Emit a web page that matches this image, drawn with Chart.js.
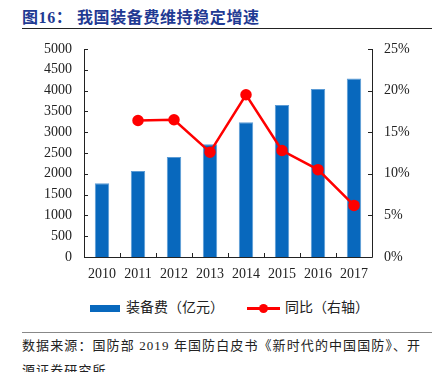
<!DOCTYPE html>
<html><head><meta charset="utf-8">
<script src="https://cdn.jsdelivr.net/npm/chart.js@4/dist/chart.umd.min.js"></script>
<style>
html,body{margin:0;padding:0;background:#fff;}
body{width:440px;height:372px;position:relative;overflow:hidden;font-family:"Noto Sans CJK SC","Liberation Serif",serif;}
#title{position:absolute;left:22px;top:4px;font-size:16px;font-weight:bold;color:#1f3a93;font-family:"Liberation Serif","Noto Sans CJK SC",serif;letter-spacing:0.6px;white-space:nowrap;}
#tline{position:absolute;left:22px;top:28px;width:410px;height:1px;background:#222;}
#wrap{position:absolute;left:0;top:0;width:440px;height:290px;}
#legend{position:absolute;top:296px;left:0;width:440px;height:20px;font-size:14px;color:#222;}
.lg{position:absolute;top:0;white-space:nowrap;line-height:20px;}
#bline{position:absolute;left:22px;top:332px;width:410px;height:1px;background:#888;}
#src{position:absolute;left:22px;top:333px;font-size:13px;color:#222;line-height:25px;letter-spacing:1.1px;white-space:nowrap;font-family:"Liberation Serif","Noto Sans CJK SC",serif;}
</style></head><body>
<div id="title">图16：&nbsp;我国装备费维持稳定增速</div>
<div id="tline"></div>
<div id="wrap"><canvas id="c" width="440" height="290"></canvas></div>
<div id="legend">
  <div class="lg" style="left:90px;"><span style="display:inline-block;width:30px;height:7px;background:#0868bd;vertical-align:middle;margin-right:6px;"></span>装备费（亿元）</div>
  <div class="lg" style="left:247px;"><span style="display:inline-block;position:relative;width:33px;height:10px;vertical-align:middle;margin-right:5px;"><span style="position:absolute;left:0;top:4px;width:33px;height:2.5px;background:#ff0000;"></span><span style="position:absolute;left:12px;top:1px;width:9px;height:9px;border-radius:50%;background:#ff0000;"></span></span>同比（右轴）</div>
</div>
<div id="bline"></div>
<div id="src">数据来源：国防部 2019 年国防白皮书《新时代的中国国防》、开<br>源证券研究所</div>
<script>
const categories = ['2010','2011','2012','2013','2014','2015','2016','2017'];
const equipmentSpending = [1774, 2065, 2406, 2710, 3238, 3654, 4038, 4288];
const yoyGrowth = [null, 16.4, 16.5, 12.6, 19.5, 12.8, 10.5, 6.2];
const leftTicks = [0,500,1000,1500,2000,2500,3000,3500,4000,4500,5000];
const rightTicks = [0,5,10,15,20,25];

const tickFont = {family:'"Liberation Serif", serif', size:14};
const axesPlugin = {
  id:'axesPlugin',
  afterDatasetsDraw(chart){
    const {ctx, chartArea:a, scales} = chart;
    ctx.save();
    ctx.strokeStyle = '#222'; ctx.lineWidth = 1;
    ctx.beginPath();
    ctx.moveTo(a.left+0.5, a.top); ctx.lineTo(a.left+0.5, a.bottom+0.5);
    ctx.lineTo(a.right+0.5, a.bottom+0.5); ctx.lineTo(a.right+0.5, a.top);
    ctx.stroke();
    ctx.beginPath();
    scales.y.ticks.forEach(t=>{const p=Math.round(scales.y.getPixelForValue(t.value))+0.5; ctx.moveTo(a.left, p); ctx.lineTo(a.left+4, p);});
    scales.y1.ticks.forEach(t=>{const p=Math.round(scales.y1.getPixelForValue(t.value))+0.5; ctx.moveTo(a.right, p); ctx.lineTo(a.right-4, p);});
    const n = categories.length;
    for(let i=1;i<n;i++){
      const p = Math.round((scales.x.getPixelForValue(i-1)+scales.x.getPixelForValue(i))/2)+0.5;
      ctx.moveTo(p, a.bottom); ctx.lineTo(p, a.bottom-4);
    }
    ctx.stroke();
    ctx.restore();
  }
};

new Chart(document.getElementById('c'), {
  data:{
    labels: categories,
    datasets:[
      {type:'line', label:'同比（右轴）', data:yoyGrowth, yAxisID:'y1', borderColor:'#ff0000', backgroundColor:'#ff0000', borderWidth:2.5, pointRadius:4.5, pointHoverRadius:4.5, tension:0, spanGaps:false, order:0},
      {type:'bar', label:'装备费（亿元）', data:equipmentSpending, yAxisID:'y', backgroundColor:'#0868bd', borderColor:'#5b9bd5', borderWidth:{left:1,right:1,top:1,bottom:0}, barPercentage:0.4, categoryPercentage:1.0, order:1}
    ]
  },
  options:{
    responsive:false, animation:false, devicePixelRatio:1,
    layout:{padding:{left:0,right:0,top:49,bottom:0}},
    plugins:{legend:{display:false}, tooltip:{enabled:false}},
    scales:{
      x:{grid:{display:false,drawTicks:false}, border:{display:false}, ticks:{color:'#222', font:tickFont, padding:9, maxRotation:0},
         afterFit(s){s.height=33;}},
      y:{position:'left', min:0, max:5000, grid:{display:false,drawTicks:false}, border:{display:false},
         afterBuildTicks(s){s.ticks = leftTicks.map(v=>({value:v}));},
         ticks:{color:'#222', font:tickFont, padding:12, callback:v=>String(v)}, afterFit(s){s.width=84;}},
      y1:{position:'right', min:0, max:25, grid:{display:false,drawTicks:false}, border:{display:false},
         afterBuildTicks(s){s.ticks = rightTicks.map(v=>({value:v}));},
         ticks:{color:'#222', font:tickFont, padding:12, callback:v=>v+'%'}, afterFit(s){s.width=68;}}
    }
  },
  plugins:[axesPlugin]
});
</script>
</body></html>
